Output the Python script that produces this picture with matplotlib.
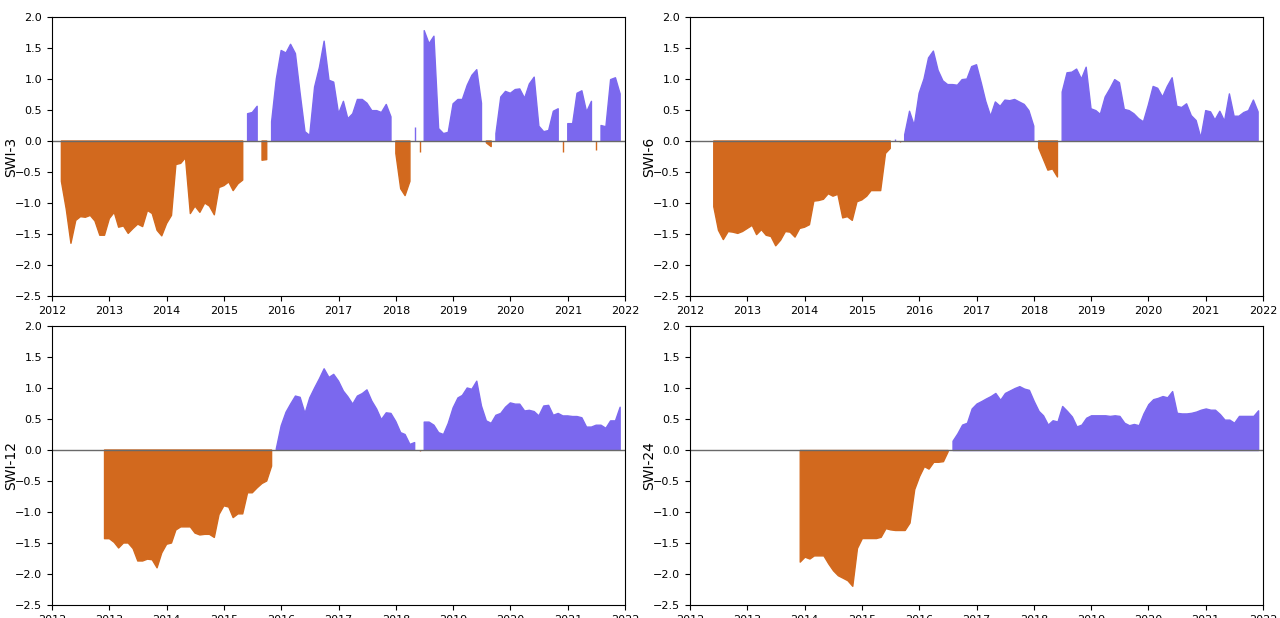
import numpy as np
import pandas as pd
import matplotlib
matplotlib.use("Agg")
import matplotlib.pyplot as plt
import matplotlib.dates as mdates

dates = pd.date_range("2012-01-01", periods=120, freq="MS")
nan = np.nan

swi_3 = [nan, nan,
         -0.65, -1.1, -1.65, -1.28, -1.22, -1.23, -1.2, -1.29, -1.52, -1.52,
         -1.25, -1.15, -1.39, -1.37, -1.49, -1.41, -1.34, -1.38, -1.12, -1.17, -1.44, -1.53,
         -1.33, -1.2, -0.38, -0.36, -0.27, -1.17, -1.05, -1.15, -1.0, -1.05, -1.19, -0.75,
         -0.72, -0.66, -0.8, -0.69, -0.63, 0.44, 0.46, 0.56, -0.31, -0.3, 0.31, 1.0,
         1.46, 1.42, 1.56, 1.41, 0.77, 0.15, 0.09, 0.87, 1.19, 1.61, 0.98, 0.95,
         0.44, 0.64, 0.36, 0.44, 0.67, 0.67, 0.61, 0.49, 0.49, 0.46, 0.59, 0.39,
         -0.2, -0.77, -0.88, -0.65, 0.23, -0.17, 1.78, 1.57, 1.69, 0.2, 0.12, 0.14,
         0.6, 0.67, 0.67, 0.9, 1.06, 1.15, 0.61, -0.03, -0.09, 0.12, 0.71, 0.8,
         0.77, 0.83, 0.84, 0.69, 0.92, 1.03, 0.24, 0.15, 0.17, 0.48, 0.52, -0.18,
         0.28, 0.28, 0.77, 0.81, 0.47, 0.64, -0.15, 0.25, 0.23, 0.99, 1.02, 0.76]

swi_6 = [nan, nan, nan, nan, nan,
         -1.06, -1.44, -1.59, -1.46, -1.47, -1.49, -1.46,
         -1.41, -1.36, -1.51, -1.43, -1.52, -1.54, -1.69, -1.6, -1.46, -1.47, -1.55, -1.41,
         -1.39, -1.35, -0.97, -0.96, -0.94, -0.85, -0.89, -0.86, -1.24, -1.22, -1.28, -0.98,
         -0.95, -0.89, -0.8, -0.8, -0.8, -0.2, -0.12, 0.03, -0.01, 0.1, 0.48, 0.25,
         0.77, 1.0, 1.34, 1.45, 1.14, 0.97, 0.91, 0.91, 0.9, 0.99, 1.0, 1.2,
         1.23, 0.93, 0.64, 0.4, 0.63, 0.56, 0.66, 0.65, 0.67, 0.63, 0.59, 0.49,
         0.24, -0.11, -0.28, -0.47, -0.45, -0.58, 0.79, 1.1, 1.11, 1.16, 1.0, 1.19,
         0.52, 0.49, 0.43, 0.71, 0.84, 0.99, 0.94, 0.51, 0.49, 0.44, 0.36, 0.31,
         0.58, 0.88, 0.85, 0.71, 0.88, 1.02, 0.56, 0.54, 0.6, 0.41, 0.33, 0.05,
         0.49, 0.47, 0.34, 0.48, 0.32, 0.76, 0.4, 0.4, 0.46, 0.49, 0.66, 0.47]

swi_12 = [nan] * 11 + [
         -1.43,
         -1.43, -1.49, -1.58, -1.5, -1.5, -1.59, -1.79, -1.79, -1.76, -1.77, -1.9, -1.66,
         -1.52, -1.5, -1.29, -1.24, -1.24, -1.24, -1.34, -1.37, -1.36, -1.36, -1.41, -1.04,
         -0.9, -0.92, -1.09, -1.03, -1.03, -0.69, -0.69, -0.61, -0.54, -0.5, -0.26, 0.02,
         0.39, 0.61, 0.74, 0.87, 0.85, 0.59, 0.84, 1.0, 1.15, 1.31, 1.17, 1.22,
         1.11, 0.95, 0.86, 0.74, 0.87, 0.91, 0.97, 0.79, 0.66, 0.49, 0.6, 0.59,
         0.46, 0.28, 0.25, 0.09, 0.12, -0.02, 0.45, 0.45, 0.4, 0.28, 0.25, 0.43,
         0.68, 0.84, 0.88, 1.0, 0.98, 1.11, 0.71, 0.47, 0.43, 0.56, 0.59, 0.69,
         0.76, 0.74, 0.74, 0.63, 0.64, 0.62, 0.55, 0.71, 0.72, 0.56, 0.59, 0.55,
         0.55, 0.54, 0.54, 0.52, 0.37, 0.37, 0.4, 0.4, 0.35, 0.47, 0.47, 0.69]

swi_24 = [nan] * 23 + [
         -1.8,
         -1.72, -1.75, -1.7, -1.7, -1.7, -1.83, -1.94, -2.02, -2.06, -2.1, -2.19, -1.58,
         -1.42, -1.42, -1.42, -1.42, -1.4, -1.26, -1.28, -1.29, -1.29, -1.29, -1.17, -0.63,
         -0.42, -0.26, -0.3, -0.19, -0.19, -0.18, -0.02, 0.15, 0.27, 0.41, 0.44, 0.67,
         0.75, 0.79, 0.83, 0.87, 0.92, 0.81, 0.92, 0.96, 1.0, 1.03, 0.99, 0.97,
         0.79, 0.63, 0.56, 0.41, 0.48, 0.46, 0.71, 0.63, 0.54, 0.38, 0.41, 0.52,
         0.56, 0.56, 0.56, 0.56, 0.55, 0.56, 0.55, 0.44, 0.4, 0.42, 0.4, 0.59,
         0.74, 0.82, 0.84, 0.87, 0.85, 0.95, 0.6, 0.59, 0.59, 0.6, 0.62, 0.65,
         0.67, 0.65, 0.65, 0.58, 0.49, 0.49, 0.44, 0.55, 0.55, 0.55, 0.55, 0.64]

series = [("SWI-3", swi_3), ("SWI-6", swi_6), ("SWI-12", swi_12), ("SWI-24", swi_24)]

fig = plt.figure(figsize=(12.8, 6.18), dpi=100)
positions = [[0.0406, 0.521, 0.4477, 0.4515], [0.539, 0.521, 0.4477, 0.4515],
             [0.0406, 0.021, 0.4477, 0.4515], [0.539, 0.021, 0.4477, 0.4515]]

for pos, (name, vals) in zip(positions, series):
    ax = fig.add_axes(pos)
    v = np.array(vals, dtype=float)
    # positive and negative months filled separately, no interpolation at sign changes
    ax.fill_between(dates, v, 0, where=v >= 0, color="mediumslateblue")
    ax.fill_between(dates, v, 0, where=v < 0, color="chocolate")
    ax.axhline(0, color="dimgray", linewidth=1)
    ax.set_xlim(pd.Timestamp("2012-01-01"), pd.Timestamp("2022-01-01"))
    ax.set_ylim(-2.5, 2.0)
    ax.xaxis.set_major_locator(mdates.YearLocator())
    ax.xaxis.set_major_formatter(mdates.DateFormatter("%Y"))
    ax.tick_params(labelsize=8)
    ax.set_ylabel(name, fontsize=10, labelpad=-2.5)

fig.savefig("out.png", dpi=100)
